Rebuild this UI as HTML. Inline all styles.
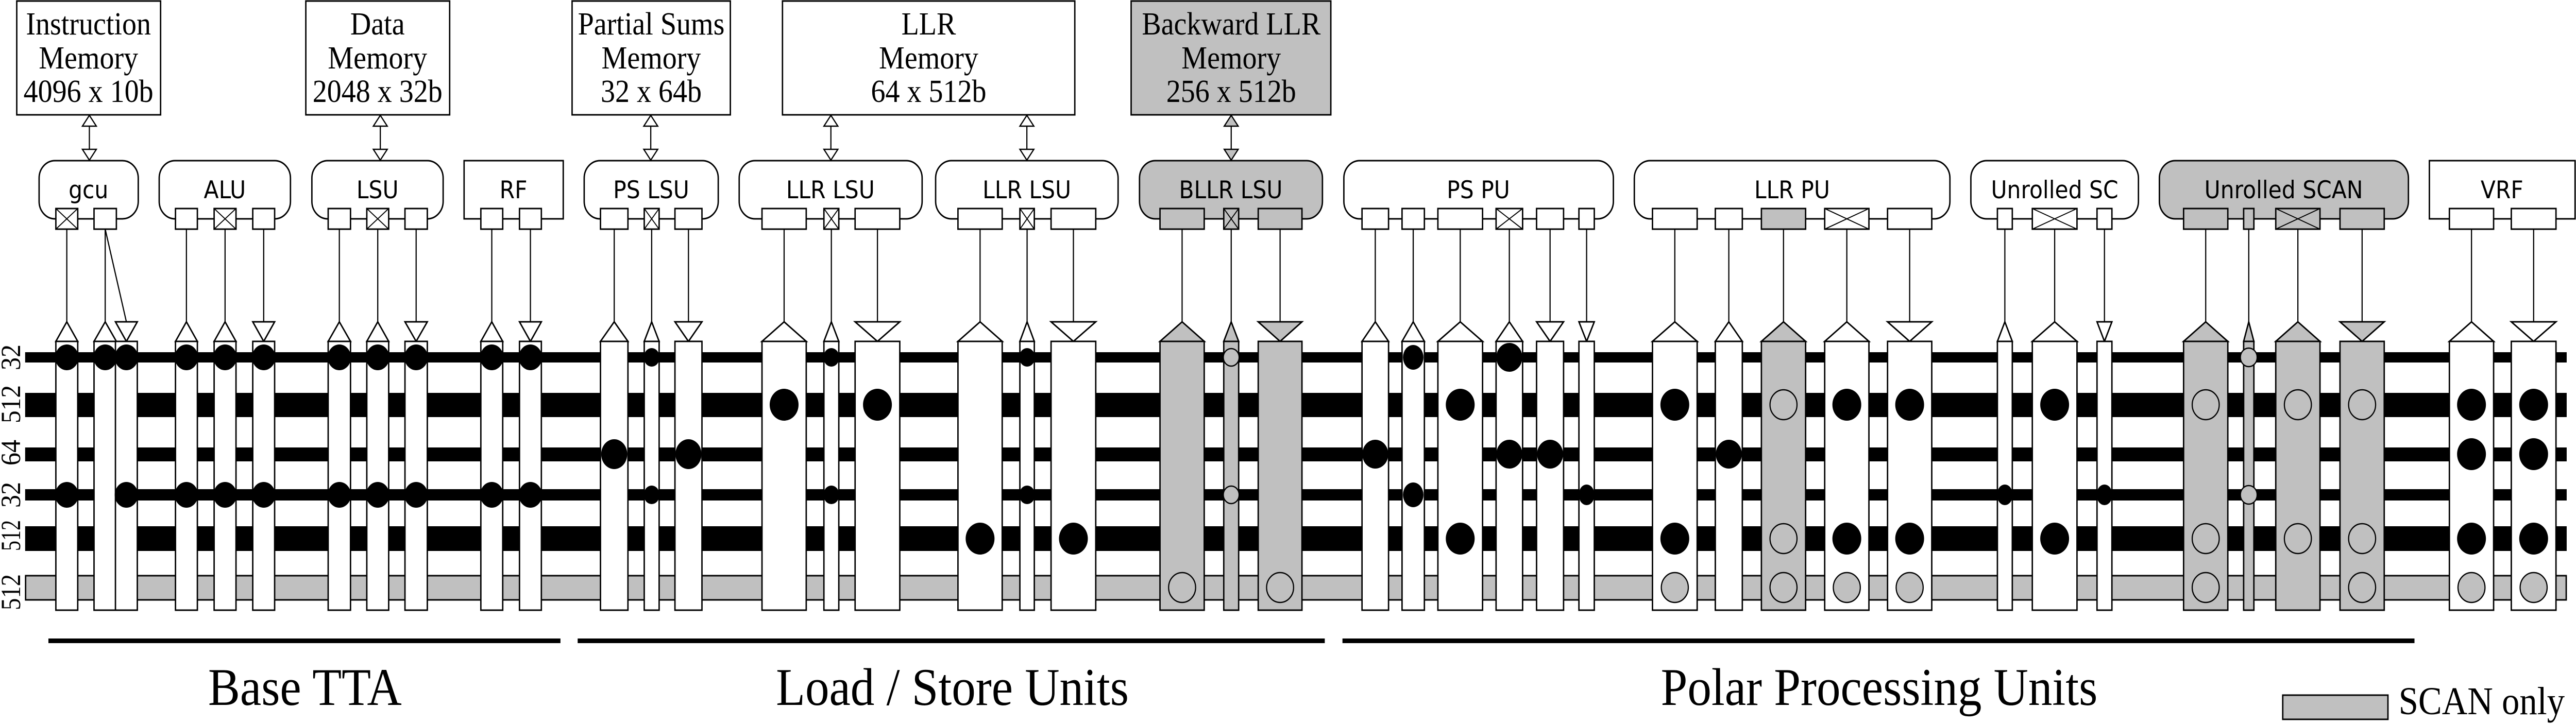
<!DOCTYPE html>
<html><head><meta charset="utf-8"><style>
html,body{margin:0;padding:0;background:#fff;overflow:hidden;width:100%;height:100%}
svg{display:block;width:100vw;height:100vh}
.s{font-family:"Liberation Serif",serif}
.u{font-family:"DejaVu Sans","Liberation Sans",sans-serif}
</style></head><body>
<svg viewBox="0 0 5534 1408" preserveAspectRatio="none" xmlns="http://www.w3.org/2000/svg">
<g stroke="#000" stroke-width="3" fill="#fff">
<rect x="36" y="2" width="309" height="221"/>
<rect x="657" y="2" width="309" height="221"/>
<rect x="1229" y="2" width="340" height="221"/>
<rect x="1681" y="2" width="628" height="221"/>
<rect x="2430" y="2" width="429" height="221" fill="#c0c0c0"/>
<g stroke-width="2.5">
<line x1="192" y1="244" x2="192" y2="290"/><polygon points="192,224 177,245 207,245"/><polygon points="192,311 177,290 207,290"/>
<line x1="817" y1="244" x2="817" y2="290"/><polygon points="817,224 802,245 832,245"/><polygon points="817,311 802,290 832,290"/>
<line x1="1398" y1="244" x2="1398" y2="290"/><polygon points="1398,224 1383,245 1413,245"/><polygon points="1398,311 1383,290 1413,290"/>
<line x1="1785" y1="244" x2="1785" y2="290"/><polygon points="1785,224 1770,245 1800,245"/><polygon points="1785,311 1770,290 1800,290"/>
<line x1="2206" y1="244" x2="2206" y2="290"/><polygon points="2206,224 2191,245 2221,245"/><polygon points="2206,311 2191,290 2221,290"/>
<line x1="2645" y1="244" x2="2645" y2="290"/><polygon points="2645,224 2630,245 2660,245" fill="#c0c0c0"/><polygon points="2645,311 2630,290 2660,290" fill="#c0c0c0"/>
</g>
<rect x="84" y="312" width="213" height="113" rx="34"/>
<rect x="342" y="312" width="282" height="113" rx="34"/>
<rect x="670" y="312" width="282" height="113" rx="34"/>
<rect x="997" y="312" width="213" height="113"/>
<rect x="1255" y="312" width="288" height="113" rx="34"/>
<rect x="1588" y="312" width="393" height="113" rx="34"/>
<rect x="2010" y="312" width="392" height="113" rx="34"/>
<rect x="2448" y="312" width="393" height="113" rx="34" fill="#c0c0c0"/>
<rect x="2887" y="312" width="579" height="113" rx="34"/>
<rect x="3511" y="312" width="678" height="113" rx="34"/>
<rect x="4234" y="312" width="360" height="113" rx="34"/>
<rect x="4639" y="312" width="535" height="113" rx="34" fill="#c0c0c0"/>
<rect x="5219" y="312" width="313" height="113"/>
</g>
<g fill="#000">
<rect x="54" y="684" width="5460" height="20"/>
<rect x="54" y="763" width="5460" height="47"/>
<rect x="54" y="869" width="5460" height="27"/>
<rect x="54" y="950" width="5460" height="22"/>
<rect x="54" y="1022" width="5460" height="48"/>
</g>
<rect x="55" y="1118" width="5458" height="47" fill="#c0c0c0" stroke="#000" stroke-width="3"/>

<g stroke="#000" stroke-width="3" fill="#fff">
<g stroke-width="2.5" fill="none">
<line x1="143.5" y1="445" x2="143.5" y2="625"/>
<line x1="226" y1="445" x2="226" y2="625"/>
<line x1="226" y1="445" x2="271.5" y2="625"/>
<line x1="400.5" y1="445" x2="400.5" y2="625"/><line x1="483.5" y1="445" x2="483.5" y2="625"/><line x1="566.5" y1="445" x2="566.5" y2="625"/>
<line x1="729" y1="445" x2="729" y2="625"/><line x1="811.5" y1="445" x2="811.5" y2="625"/><line x1="894" y1="445" x2="894" y2="625"/>
<line x1="1056.5" y1="445" x2="1056.5" y2="625"/><line x1="1139.5" y1="445" x2="1139.5" y2="625"/>
<line x1="1319.5" y1="445" x2="1319.5" y2="625"/><line x1="1400" y1="445" x2="1400" y2="625"/><line x1="1479" y1="445" x2="1479" y2="625"/>
<line x1="1684.5" y1="445" x2="1684.5" y2="625"/><line x1="1786" y1="445" x2="1786" y2="625"/><line x1="1885" y1="445" x2="1885" y2="625"/>
<line x1="2105.5" y1="445" x2="2105.5" y2="625"/><line x1="2206.5" y1="445" x2="2206.5" y2="625"/><line x1="2306" y1="445" x2="2306" y2="625"/>
<line x1="2539.5" y1="445" x2="2539.5" y2="625"/><line x1="2645" y1="445" x2="2645" y2="625"/><line x1="2750" y1="445" x2="2750" y2="625"/>
<line x1="2954.5" y1="445" x2="2954.5" y2="625"/><line x1="3036" y1="445" x2="3036" y2="625"/><line x1="3137" y1="445" x2="3137" y2="625"/><line x1="3242.5" y1="445" x2="3242.5" y2="625"/><line x1="3330" y1="445" x2="3330" y2="625"/><line x1="3408.5" y1="445" x2="3408.5" y2="625"/>
<line x1="3598" y1="445" x2="3598" y2="625"/><line x1="3714" y1="445" x2="3714" y2="625"/><line x1="3831.5" y1="445" x2="3831.5" y2="625"/><line x1="3967.5" y1="445" x2="3967.5" y2="625"/><line x1="4102.5" y1="445" x2="4102.5" y2="625"/>
<line x1="4307" y1="445" x2="4307" y2="625"/><line x1="4414" y1="445" x2="4414" y2="625"/><line x1="4521" y1="445" x2="4521" y2="625"/>
<line x1="4738.5" y1="445" x2="4738.5" y2="625"/><line x1="4831" y1="445" x2="4831" y2="625"/><line x1="4936.5" y1="445" x2="4936.5" y2="625"/><line x1="5074.5" y1="445" x2="5074.5" y2="625"/>
<line x1="5309.5" y1="445" x2="5309.5" y2="625"/><line x1="5443" y1="445" x2="5443" y2="625"/>
</g>
<rect x="120" y="405" width="47" height="40"/><path d="M120 405L167 445M167 405L120 445" fill="none" stroke-width="2"/>
<rect x="202" y="405" width="48" height="40"/>
<rect x="377" y="405" width="47" height="40"/>
<rect x="460" y="405" width="47" height="40"/><path d="M460 405L507 445M507 405L460 445" fill="none" stroke-width="2"/>
<rect x="543" y="405" width="47" height="40"/>
<rect x="705" y="405" width="48" height="40"/>
<rect x="788" y="405" width="47" height="40"/><path d="M788 405L835 445M835 405L788 445" fill="none" stroke-width="2"/>
<rect x="870" y="405" width="48" height="40"/>
<rect x="1033" y="405" width="47" height="40"/>
<rect x="1116" y="405" width="47" height="40"/>
<rect x="1290" y="405" width="59" height="40"/>
<rect x="1384" y="405" width="32" height="40"/><path d="M1384 405L1416 445M1416 405L1384 445" fill="none" stroke-width="2"/>
<rect x="1450" y="405" width="58" height="40"/>
<rect x="1637" y="405" width="95" height="40"/>
<rect x="1770" y="405" width="32" height="40"/><path d="M1770 405L1802 445M1802 405L1770 445" fill="none" stroke-width="2"/>
<rect x="1837" y="405" width="96" height="40"/>
<rect x="2058" y="405" width="95" height="40"/>
<rect x="2191" y="405" width="31" height="40"/><path d="M2191 405L2222 445M2222 405L2191 445" fill="none" stroke-width="2"/>
<rect x="2258" y="405" width="96" height="40"/>
<rect x="2492" y="405" width="95" height="40" fill="#c0c0c0"/>
<rect x="2629" y="405" width="32" height="40" fill="#c0c0c0"/><path d="M2629 405L2661 445M2661 405L2629 445" fill="none" stroke-width="2"/>
<rect x="2703" y="405" width="94" height="40" fill="#c0c0c0"/>
<rect x="2926" y="405" width="57" height="40"/>
<rect x="3012" y="405" width="48" height="40"/>
<rect x="3089" y="405" width="96" height="40"/>
<rect x="3214" y="405" width="57" height="40"/><path d="M3214 405L3271 445M3271 405L3214 445" fill="none" stroke-width="2"/>
<rect x="3301" y="405" width="58" height="40"/>
<rect x="3392" y="405" width="33" height="40"/>
<rect x="3550" y="405" width="96" height="40"/>
<rect x="3685" y="405" width="58" height="40"/>
<rect x="3784" y="405" width="95" height="40" fill="#c0c0c0"/>
<rect x="3920" y="405" width="95" height="40"/><path d="M3920 405L4015 445M4015 405L3920 445" fill="none" stroke-width="2"/>
<rect x="4055" y="405" width="95" height="40"/>
<rect x="4291" y="405" width="32" height="40"/>
<rect x="4366" y="405" width="96" height="40"/><path d="M4366 405L4462 445M4462 405L4366 445" fill="none" stroke-width="2"/>
<rect x="4505" y="405" width="32" height="40"/>
<rect x="4691" y="405" width="95" height="40" fill="#c0c0c0"/>
<rect x="4820" y="405" width="22" height="40" fill="#c0c0c0"/>
<rect x="4889" y="405" width="95" height="40" fill="#c0c0c0"/><path d="M4889 405L4984 445M4984 405L4889 445" fill="none" stroke-width="2"/>
<rect x="5027" y="405" width="95" height="40" fill="#c0c0c0"/>
<rect x="5262" y="405" width="95" height="40"/>
<rect x="5395" y="405" width="96" height="40"/>

<polygon points="120,663 143.5,625 167,663"/>
<polygon points="202,663 226,625 250,663"/>
<polygon points="248,625 295,625 271.5,663"/>
<polygon points="377,663 400.5,625 424,663"/><polygon points="460,663 483.5,625 507,663"/><polygon points="543,625 590,625 566.5,663"/>
<polygon points="705,663 729,625 753,663"/><polygon points="788,663 811.5,625 835,663"/><polygon points="870,625 918,625 894,663"/>
<polygon points="1033,663 1056.5,625 1080,663"/><polygon points="1116,625 1163,625 1139.5,663"/>
<polygon points="1290,663 1319.5,625 1349,663"/><polygon points="1384,663 1400,625 1416,663"/><polygon points="1450,625 1508,625 1479,663"/>
<polygon points="1637,663 1684.5,625 1732,663"/><polygon points="1770,663 1786,625 1802,663"/><polygon points="1837,625 1933,625 1885,663"/>
<polygon points="2058,663 2105.5,625 2153,663"/><polygon points="2191,663 2206.5,625 2222,663"/><polygon points="2258,625 2354,625 2306,663"/>
<polygon points="2492,663 2539.5,625 2587,663" fill="#c0c0c0"/><polygon points="2629,663 2645,625 2661,663" fill="#c0c0c0"/><polygon points="2703,625 2797,625 2750,663" fill="#c0c0c0"/>
<polygon points="2926,663 2954.5,625 2983,663"/><polygon points="3012,663 3036,625 3060,663"/><polygon points="3089,663 3137,625 3185,663"/><polygon points="3214,663 3242.5,625 3271,663"/><polygon points="3301,625 3359,625 3330,663"/><polygon points="3392,625 3425,625 3408.5,663"/>
<polygon points="3550,663 3598,625 3646,663"/><polygon points="3685,663 3714,625 3743,663"/><polygon points="3784,663 3831.5,625 3879,663" fill="#c0c0c0"/><polygon points="3920,663 3967.5,625 4015,663"/><polygon points="4055,625 4150,625 4102.5,663"/>
<polygon points="4291,663 4307,625 4323,663"/><polygon points="4366,663 4414,625 4462,663"/><polygon points="4505,625 4537,625 4521,663"/>
<polygon points="4691,663 4738.5,625 4786,663" fill="#c0c0c0"/><polygon points="4820,663 4831,625 4842,663" fill="#c0c0c0"/><polygon points="4889,663 4936.5,625 4984,663" fill="#c0c0c0"/><polygon points="5027,625 5122,625 5074.5,663" fill="#c0c0c0"/>
<polygon points="5262,663 5309.5,625 5357,663"/><polygon points="5395,625 5491,625 5443,663"/>

<rect x="120" y="663" width="47" height="522"/><rect x="202" y="663" width="48" height="522"/><rect x="248" y="663" width="47" height="522"/>
<rect x="377" y="663" width="47" height="522"/><rect x="460" y="663" width="47" height="522"/><rect x="543" y="663" width="47" height="522"/>
<rect x="705" y="663" width="48" height="522"/><rect x="788" y="663" width="47" height="522"/><rect x="870" y="663" width="48" height="522"/>
<rect x="1033" y="663" width="47" height="522"/><rect x="1116" y="663" width="47" height="522"/>
<rect x="1290" y="663" width="59" height="522"/><rect x="1384" y="663" width="32" height="522"/><rect x="1450" y="663" width="58" height="522"/>
<rect x="1637" y="663" width="95" height="522"/><rect x="1770" y="663" width="32" height="522"/><rect x="1837" y="663" width="96" height="522"/>
<rect x="2058" y="663" width="95" height="522"/><rect x="2191" y="663" width="31" height="522"/><rect x="2258" y="663" width="96" height="522"/>
<rect x="2492" y="663" width="95" height="522" fill="#c0c0c0"/><rect x="2629" y="663" width="32" height="522" fill="#c0c0c0"/><rect x="2703" y="663" width="94" height="522" fill="#c0c0c0"/>
<rect x="2926" y="663" width="57" height="522"/><rect x="3012" y="663" width="48" height="522"/><rect x="3089" y="663" width="96" height="522"/><rect x="3214" y="663" width="57" height="522"/><rect x="3301" y="663" width="58" height="522"/><rect x="3392" y="663" width="33" height="522"/>
<rect x="3550" y="663" width="96" height="522"/><rect x="3685" y="663" width="58" height="522"/><rect x="3784" y="663" width="95" height="522" fill="#c0c0c0"/><rect x="3920" y="663" width="95" height="522"/><rect x="4055" y="663" width="95" height="522"/>
<rect x="4291" y="663" width="32" height="522"/><rect x="4366" y="663" width="96" height="522"/><rect x="4505" y="663" width="32" height="522"/>
<rect x="4691" y="663" width="95" height="522" fill="#c0c0c0"/><rect x="4820" y="663" width="22" height="522" fill="#c0c0c0"/><rect x="4889" y="663" width="95" height="522" fill="#c0c0c0"/><rect x="5027" y="663" width="95" height="522" fill="#c0c0c0"/>
<rect x="5262" y="663" width="95" height="522"/><rect x="5395" y="663" width="96" height="522"/>
</g>

<g fill="#000">
<ellipse cx="143.5" cy="694" rx="25" ry="25"/><ellipse cx="143.5" cy="961" rx="25" ry="25"/>
<ellipse cx="226" cy="694" rx="25" ry="25"/>
<ellipse cx="271.5" cy="694" rx="25" ry="25"/><ellipse cx="271.5" cy="961" rx="25" ry="25"/>
<ellipse cx="400.5" cy="694" rx="25" ry="25"/><ellipse cx="400.5" cy="961" rx="25" ry="25"/>
<ellipse cx="483.5" cy="694" rx="25" ry="25"/><ellipse cx="483.5" cy="961" rx="25" ry="25"/>
<ellipse cx="566.5" cy="694" rx="25" ry="25"/><ellipse cx="566.5" cy="961" rx="25" ry="25"/>
<ellipse cx="729" cy="694" rx="25" ry="25"/><ellipse cx="729" cy="961" rx="25" ry="25"/>
<ellipse cx="811.5" cy="694" rx="25" ry="25"/><ellipse cx="811.5" cy="961" rx="25" ry="25"/>
<ellipse cx="894" cy="694" rx="25" ry="25"/><ellipse cx="894" cy="961" rx="25" ry="25"/>
<ellipse cx="1056.5" cy="694" rx="25" ry="25"/><ellipse cx="1056.5" cy="961" rx="25" ry="25"/>
<ellipse cx="1139.5" cy="694" rx="25" ry="25"/><ellipse cx="1139.5" cy="961" rx="25" ry="25"/>
<ellipse cx="1319.5" cy="882" rx="28" ry="29"/>
<ellipse cx="1400" cy="694" rx="17" ry="18"/><ellipse cx="1400" cy="961" rx="17" ry="18"/>
<ellipse cx="1479" cy="882" rx="28" ry="29"/>
<ellipse cx="1684.5" cy="786" rx="31" ry="31"/>
<ellipse cx="1786" cy="694" rx="17" ry="18"/><ellipse cx="1786" cy="961" rx="17" ry="18"/>
<ellipse cx="1885" cy="786" rx="31" ry="31"/>
<ellipse cx="2105.5" cy="1046" rx="31" ry="31"/>
<ellipse cx="2206.5" cy="694" rx="17" ry="18"/><ellipse cx="2206.5" cy="961" rx="17" ry="18"/>
<ellipse cx="2306" cy="1046" rx="31" ry="31"/>
<ellipse cx="2954.5" cy="882" rx="28" ry="28"/>
<ellipse cx="3036" cy="694" rx="22" ry="24"/><ellipse cx="3036" cy="961" rx="22" ry="24"/>
<ellipse cx="3137" cy="786" rx="31" ry="31"/><ellipse cx="3137" cy="1046" rx="31" ry="31"/>
<ellipse cx="3242.5" cy="694" rx="28" ry="28"/><ellipse cx="3242.5" cy="882" rx="28" ry="28"/>
<ellipse cx="3330" cy="882" rx="28" ry="28"/>
<ellipse cx="3408.5" cy="961" rx="17" ry="20"/>
<ellipse cx="3598" cy="786" rx="31" ry="31"/><ellipse cx="3598" cy="1046" rx="31" ry="31"/>
<ellipse cx="3714" cy="882" rx="28" ry="28"/>
<ellipse cx="3967.5" cy="786" rx="31" ry="31"/><ellipse cx="3967.5" cy="1046" rx="31" ry="31"/>
<ellipse cx="4102.5" cy="786" rx="31" ry="31"/><ellipse cx="4102.5" cy="1046" rx="31" ry="31"/>
<ellipse cx="4307" cy="961" rx="17" ry="20"/>
<ellipse cx="4414" cy="786" rx="31" ry="31"/><ellipse cx="4414" cy="1046" rx="31" ry="31"/>
<ellipse cx="4521" cy="961" rx="17" ry="20"/>
<ellipse cx="5309.5" cy="786" rx="31" ry="31"/><ellipse cx="5309.5" cy="882" rx="31" ry="31"/><ellipse cx="5309.5" cy="1046" rx="31" ry="31"/>
<ellipse cx="5443" cy="786" rx="31" ry="31"/><ellipse cx="5443" cy="882" rx="31" ry="31"/><ellipse cx="5443" cy="1046" rx="31" ry="31"/>
</g>
<g fill="#c0c0c0" stroke="#000" stroke-width="2.5">
<circle cx="2539.5" cy="1141" r="29"/><circle cx="2750" cy="1141" r="29"/>
<circle cx="2645" cy="694" r="17"/><circle cx="2645" cy="961" r="17"/>
<circle cx="3598" cy="1141" r="29"/>
<circle cx="3831.5" cy="786" r="29"/><circle cx="3831.5" cy="1046" r="29"/><circle cx="3831.5" cy="1141" r="29"/>
<circle cx="3967.5" cy="1141" r="29"/><circle cx="4102.5" cy="1141" r="29"/>
<circle cx="4738.5" cy="786" r="29"/><circle cx="4738.5" cy="1046" r="29"/><circle cx="4738.5" cy="1141" r="29"/>
<circle cx="4831" cy="694" r="18"/><circle cx="4831" cy="961" r="18"/>
<circle cx="4936.5" cy="786" r="29"/><circle cx="4936.5" cy="1046" r="29"/>
<circle cx="5074.5" cy="786" r="29"/><circle cx="5074.5" cy="1046" r="29"/><circle cx="5074.5" cy="1141" r="29"/>
<circle cx="5309.5" cy="1141" r="29"/><circle cx="5443" cy="1141" r="29"/>
</g>

<g fill="#000">
<rect x="104" y="1240" width="1100" height="9"/>
<rect x="1241" y="1240" width="1605" height="9"/>
<rect x="2884" y="1240" width="2303" height="9"/>
</g>
<rect x="4904" y="1350" width="226" height="47" fill="#c0c0c0" stroke="#000" stroke-width="3"/>

<g class="s" font-size="62" text-anchor="middle" fill="#000">
<text x="190" y="67">Instruction</text><text x="190" y="133">Memory</text><text x="190" y="198">4096 x 10b</text>
<text x="811" y="67">Data</text><text x="811" y="133">Memory</text><text x="811" y="198">2048 x 32b</text>
<text x="1399" y="67">Partial Sums</text><text x="1399" y="133">Memory</text><text x="1399" y="198">32 x 64b</text>
<text x="1995" y="67">LLR</text><text x="1995" y="133">Memory</text><text x="1995" y="198">64 x 512b</text>
<text x="2645" y="67">Backward LLR</text><text x="2645" y="133">Memory</text><text x="2645" y="198">256 x 512b</text>
</g>
<g class="u" font-size="47" text-anchor="middle" fill="#000">
<text x="190" y="385">gcu</text>
<text x="483" y="385">ALU</text>
<text x="811" y="385">LSU</text>
<text x="1103" y="385">RF</text>
<text x="1399" y="385">PS LSU</text>
<text x="1784" y="385">LLR LSU</text>
<text x="2206" y="385">LLR LSU</text>
<text x="2644" y="385">BLLR LSU</text>
<text x="3176" y="385">PS PU</text>
<text x="3850" y="385">LLR PU</text>
<text x="4414" y="385">Unrolled SC</text>
<text x="4906" y="385">Unrolled SCAN</text>
<text x="5375" y="385">VRF</text>
</g>
<g class="s" font-size="60" text-anchor="middle" fill="#000">
<text transform="translate(43,694) rotate(-90)" textLength="50" lengthAdjust="spacingAndGlyphs">32</text>
<text transform="translate(43,785) rotate(-90)" textLength="74" lengthAdjust="spacingAndGlyphs">512</text>
<text transform="translate(43,879) rotate(-90)" textLength="50" lengthAdjust="spacingAndGlyphs">64</text>
<text transform="translate(43,961) rotate(-90)" textLength="50" lengthAdjust="spacingAndGlyphs">32</text>
<text transform="translate(43,1040) rotate(-90)" textLength="60" lengthAdjust="spacingAndGlyphs">512</text>
<text transform="translate(43,1150) rotate(-90)" textLength="70" lengthAdjust="spacingAndGlyphs">512</text>
</g>
<g class="s" font-size="103" text-anchor="middle" fill="#000">
<text x="655" y="1369">Base TTA</text>
<text x="2046" y="1369">Load / Store Units</text>
<text x="4037" y="1369">Polar Processing Units</text>
</g>
<text class="s" x="5153" y="1387" font-size="76" fill="#000">SCAN only</text>
</svg>
</body></html>
